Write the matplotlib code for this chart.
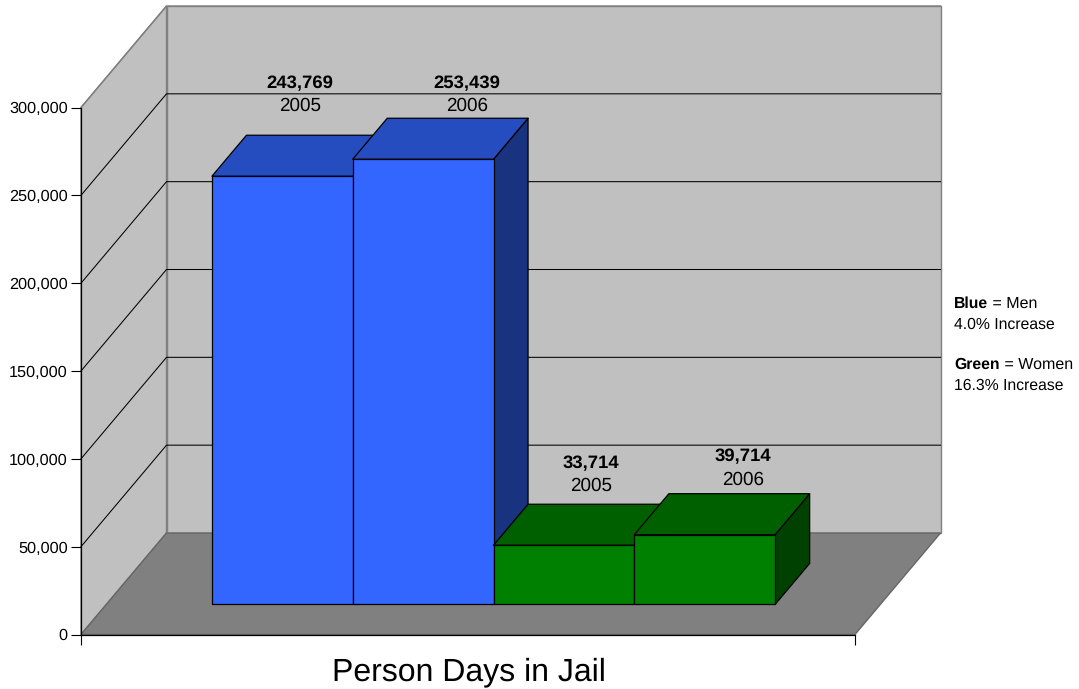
"""
Pseudo-3D column chart of person days in jail, drawn as flat polygons on one
axes. Everything is projected from (x, value, depth) so the bars still come
from the data and the axis scale.
"""
import matplotlib
matplotlib.use("Agg")
import matplotlib.pyplot as plt
from matplotlib.patches import Polygon
from matplotlib.ticker import FuncFormatter

plt.rcParams["font.family"] = ["Liberation Sans", "DejaVu Sans"]
plt.rcParams["text.hinting"] = "no_hinting"

WIDTH_PX = 1079
HEIGHT_PX = 689

# data
YEARS = ["2005", "2006", "2005", "2006"]
PERSON_DAYS = [243769, 253439, 33714, 39714]
GROUPS = ["men", "men", "women", "women"]
Y_TICKS = [0, 50000, 100000, 150000, 200000, 250000, 300000]
X_LABEL = "Person Days in Jail"

# style
FRONT_COLORS = {"men": "#3366FF", "women": "#008000"}
TOP_COLORS = {"men": "#264DBF", "women": "#006000"}
SIDE_COLORS = {"men": "#1A3380", "women": "#004000"}
WALL_COLOR = "#C0C0C0"
FLOOR_COLOR = "#808080"
EDGE_GRAY = "#808080"

# front plane of the plot box, in pixels
PLOT_LEFT_PX, PLOT_RIGHT_PX = 81, 855
PLOT_BOTTOM_PX, PLOT_TOP_PX = 634.5, 107.5
BAR_WIDTH_PX = 140.8
X_MAX = (PLOT_RIGHT_PX - PLOT_LEFT_PX) / BAR_WIDTH_PX  # x unit = one bar width
Y_MAX = 300000

# full box depth, in data units
DEPTH_X = 85.5 / BAR_WIDTH_PX
DEPTH_Y = 101.5 / (PLOT_BOTTOM_PX - PLOT_TOP_PX) * Y_MAX
BAR_DEPTH_START = 0.296
BAR_DEPTH_END = 0.70
FIRST_BAR_X = 0.75

# the value labels are hand-placed boxes in the original, not tied to the bars
LABEL_X_PX = [300, 467, 591, 743]
LABEL_VALUE_Y_PX = [84, 84, 464, 457]
LABEL_YEAR_Y_PX = [106, 106, 486, 480]


def project(x, y, depth):
    return (x + depth * DEPTH_X, y + depth * DEPTH_Y)


def px(x, y):
    return (x / WIDTH_PX, 1 - y / HEIGHT_PX)


def draw_box(ax):
    back_left_bottom = project(0, 0, 1)
    back_right_bottom = project(X_MAX, 0, 1)
    back_left_top = project(0, Y_MAX, 1)
    back_right_top = project(X_MAX, Y_MAX, 1)

    ax.add_patch(Polygon([back_left_bottom, back_right_bottom, back_right_top, back_left_top],
                         facecolor=WALL_COLOR, edgecolor=EDGE_GRAY, linewidth=1.0, zorder=1, clip_on=False))
    ax.add_patch(Polygon([(0, 0), back_left_bottom, back_left_top, (0, Y_MAX)],
                         facecolor=WALL_COLOR, edgecolor=EDGE_GRAY, linewidth=1.0, zorder=1, clip_on=False))
    ax.add_patch(Polygon([(0, 0), (X_MAX, 0), back_right_bottom, back_left_bottom],
                         facecolor=FLOOR_COLOR, edgecolor="#666666", linewidth=1.0, zorder=1.1, clip_on=False))

    for tick in Y_TICKS[1:-1]:
        back_left = project(0, tick, 1)
        back_right = project(X_MAX, tick, 1)
        ax.plot([0, back_left[0], back_right[0]], [tick, back_left[1], back_right[1]],
                color="black", linewidth=0.75, zorder=1.2, clip_on=False)
    # the 300,000 line only exists on the walls' top edge, where it is gray
    ax.plot([0, back_left_top[0], back_right_top[0]], [Y_MAX, back_left_top[1], back_right_top[1]],
            color=EDGE_GRAY, linewidth=1.0, zorder=1.2, clip_on=False)


def draw_bar(ax, index, value, group):
    left = FIRST_BAR_X + index
    right = left + 1
    near, far = BAR_DEPTH_START, BAR_DEPTH_END
    style = dict(edgecolor="black", linewidth=0.9, joinstyle="round", zorder=2 + index * 0.1, clip_on=False)

    ax.add_patch(Polygon([project(right, 0, near), project(right, 0, far),
                          project(right, value, far), project(right, value, near)],
                         facecolor=SIDE_COLORS[group], **style))
    ax.add_patch(Polygon([project(left, value, near), project(right, value, near),
                          project(right, value, far), project(left, value, far)],
                         facecolor=TOP_COLORS[group], **style))
    ax.add_patch(Polygon([project(left, 0, near), project(right, 0, near),
                          project(right, value, near), project(left, value, near)],
                         facecolor=FRONT_COLORS[group], **style))


def draw_legend(fig, ax):
    entries = [("Blue", " = Men", "4.0% Increase", 304),
               ("Green", " = Women", "16.3% Increase", 365)]
    for bold, rest, change, y in entries:
        label = fig.text(*px(954, y), bold, fontsize=11.3, fontweight="bold", va="center", ha="left")
        ax.annotate(rest, xy=(1, 0.5), xycoords=label, fontsize=11.5, va="center", ha="left",
                    annotation_clip=False)
        fig.text(*px(954, y + 20.5), change, fontsize=11.3, va="center", ha="left")


def main():
    fig = plt.figure(figsize=(WIDTH_PX / 100, HEIGHT_PX / 100), dpi=100)
    ax = fig.add_axes([PLOT_LEFT_PX / WIDTH_PX, 1 - PLOT_BOTTOM_PX / HEIGHT_PX,
                       (PLOT_RIGHT_PX - PLOT_LEFT_PX) / WIDTH_PX,
                       (PLOT_BOTTOM_PX - PLOT_TOP_PX) / HEIGHT_PX])
    ax.set_xlim(0, X_MAX)
    ax.set_ylim(0, Y_MAX)
    ax.patch.set_visible(False)
    ax.spines["top"].set_visible(False)
    ax.spines["right"].set_visible(False)
    for side in ["left", "bottom"]:
        ax.spines[side].set_linewidth(0.9)
        ax.spines[side].set_zorder(5)

    ax.set_yticks(Y_TICKS)
    ax.yaxis.set_major_formatter(FuncFormatter(lambda v, _: f"{int(v):,}"))
    ax.set_xticks([0, X_MAX])
    ax.set_xticklabels([])
    ax.tick_params(axis="y", length=7.5, width=0.8, labelsize=11.7, pad=2)
    ax.tick_params(axis="x", length=7.5, width=0.8)

    draw_box(ax)
    for i, (value, group) in enumerate(zip(PERSON_DAYS, GROUPS)):
        draw_bar(ax, i, value, group)

    for x, y_value, y_year, value, year in zip(LABEL_X_PX, LABEL_VALUE_Y_PX, LABEL_YEAR_Y_PX, PERSON_DAYS, YEARS):
        fig.text(*px(x, y_value), f"{value:,}", fontsize=13.3, fontweight="bold", ha="center", va="center")
        fig.text(*px(x, y_year), year, fontsize=13.6, ha="center", va="center")

    fig.text(*px(469, 672), X_LABEL, fontsize=23, ha="center", va="center")
    draw_legend(fig, ax)

    fig.savefig("out.png", dpi=100)


if __name__ == "__main__":
    main()
